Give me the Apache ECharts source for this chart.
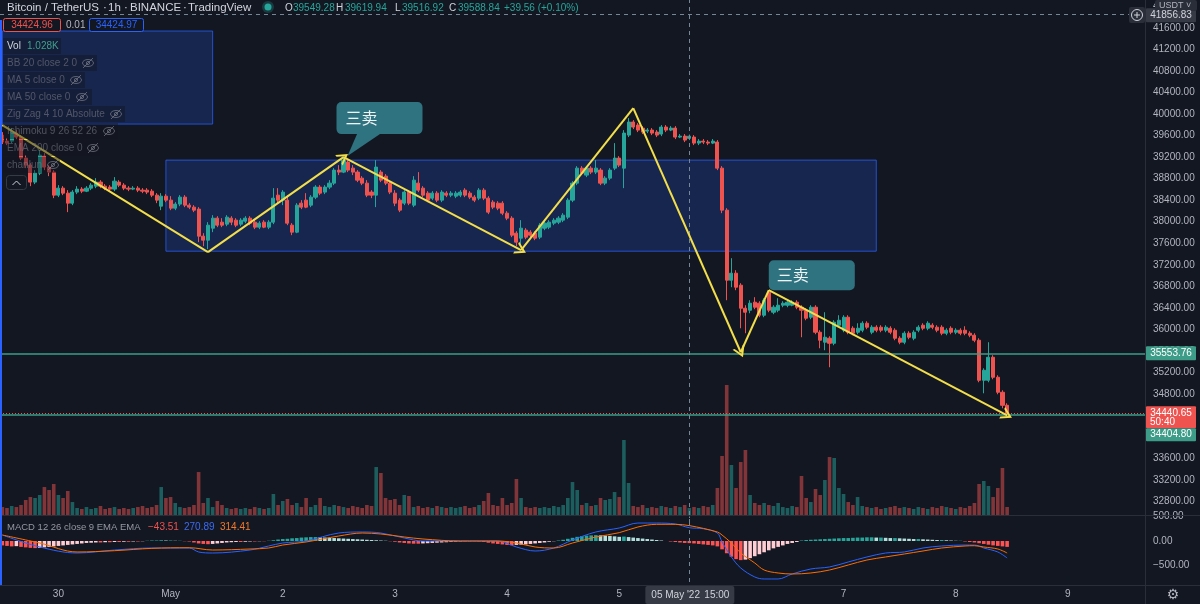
<!DOCTYPE html>
<html>
<head>
<meta charset="utf-8">
<title>BTCUSDT 1h</title>
<script src="https://cdn.jsdelivr.net/npm/echarts@6/dist/echarts.min.js"></script>
<style>
html, body { margin: 0; padding: 0; background: #131722; }
#chart { width: 1200px; height: 604px; }
</style>
</head>
<body>
<div id="chart"></div>
<script>
// hourly slots, slot 0 = 2022-04-29 12:00 ; candles = [open, close, low, high]
const candles = [
  [39610,39480,39443,39666],[39498,39461,39424,39554],[39498,39666,39461,39740],[39647,39573,39536,39703],
  [39573,39182,39145,39610],[39182,39052,38996,39238],[39052,38736,38661,39089],[38736,38903,38699,38959],
  [38903,39238,38866,39331],[39219,39015,38959,39275],[39015,38922,38847,39052],[38922,38494,38438,38959],
  [38494,38624,38457,38680],[38624,38531,38494,38661],[38531,38345,38178,38587],[38345,38550,38308,38587],
  [38550,38606,38513,38661],[38606,38568,38531,38643],[38568,38624,38550,38661],[38624,38680,38587,38717],
  [38661,38736,38624,38810],[38736,38661,38624,38773],[38661,38624,38587,38699],[38643,38606,38568,38680],
  [38606,38754,38568,38829],[38736,38680,38643,38773],[38680,38624,38587,38717],[38624,38606,38568,38661],
  [38606,38624,38587,38661],[38624,38587,38550,38661],[38587,38568,38531,38624],[38587,38550,38513,38624],
  [38568,38494,38457,38606],[38494,38401,38345,38531],[38289,38475,38215,38531],[38475,38401,38364,38513],
  [38401,38252,38215,38475],[38252,38327,38215,38364],[38327,38457,38289,38494],[38457,38308,38271,38494],
  [38308,38271,38234,38345],[38271,38215,38178,38308],[38234,37731,37620,38271],[37731,37657,37545,37787],
  [37657,37936,37490,37992],[37880,38066,37806,38122],[38066,37936,37899,38103],[37992,37936,37899,38066],
  [37955,38085,37917,38122],[38066,37992,37936,38103],[38029,37936,37899,38066],[37955,38029,37917,38066],
  [38010,38066,37973,38103],[38066,37973,37936,38103],[37992,37899,37862,38029],[37899,37973,37862,38010],
  [37992,37899,37880,38029],[37899,37992,37862,38029],[37992,38438,37955,38624],[38494,38401,38345,38624],
  [38401,38550,38308,38587],[38401,37973,37936,38494],[37936,37806,37750,37973],[37806,38308,37787,38345],
  [38345,38271,38234,38401],[38401,38271,38252,38531],[38308,38457,38271,38494],[38457,38643,38420,38680],
  [38643,38531,38494,38680],[38550,38643,38513,38680],[38643,38717,38606,38773],[38717,38959,38680,38996],
  [38959,38922,38866,39052],[38922,39145,38903,39219],[39108,38959,38922,39145],[38996,38922,38866,39052],
  [38922,38773,38736,38959],[38810,38717,38680,38847],[38717,38494,38457,38773],[38550,38494,38438,38587],
  [38494,39015,38271,39145],[38922,38773,38736,38959],[38847,38717,38680,38885],[38717,38550,38513,38754],
  [38531,38345,38289,38587],[38401,38215,38178,38438],[38345,38550,38308,38587],[38550,38345,38308,38587],
  [38308,38773,38271,38847],[38717,38587,38550,38922],[38624,38494,38457,38661],[38531,38401,38364,38568],
  [38438,38531,38401,38568],[38531,38401,38364,38568],[38401,38550,38364,38587],[38531,38494,38457,38568],
  [38494,38531,38457,38568],[38475,38531,38438,38568],[38494,38550,38457,38587],[38587,38494,38457,38624],
  [38531,38457,38420,38568],[38457,38401,38364,38494],[38438,38587,38401,38624],[38587,38438,38401,38624],
  [38438,38178,38141,38475],[38364,38271,38234,38401],[38345,38252,38215,38382],[38345,38159,38122,38382],
  [38159,38066,38029,38196],[38066,37750,37713,38103],[37787,37620,37545,37824],[37694,37880,37527,38029],
  [37843,37713,37676,37880],[37806,37750,37713,37843],[37787,37694,37657,37824],[37713,37936,37676,37973],
  [37880,37973,37843,38010],[37899,37992,37862,38029],[37973,38029,37936,38066],[37992,38066,37955,38103],
  [38029,38122,37992,38159],[38085,38401,38048,38438],[38401,38717,38364,38754],[38717,38996,38680,39033],
  [38996,38903,38866,39033],[38866,38996,38829,39033],[38996,38922,38885,39033],[38922,38996,38885,39145],
  [38959,38717,38680,38996],[38717,38810,38680,38847],[38810,38959,38773,38996],[38996,39182,38959,39461],
  [39182,39052,39015,39219],[38996,39647,38624,39703],[39610,39852,39573,39926],[39852,39759,39722,39889],
  [39796,39703,39666,39833],[39740,39666,39629,39777],[39684,39703,39647,39740],[39703,39647,39610,39740],
  [39666,39610,39573,39703],[39629,39759,39591,39796],[39759,39703,39666,39796],[39703,39740,39684,39777],
  [39740,39573,39536,39777],[39573,39591,39554,39629],[39591,39517,39480,39629],[39549.28,39588.84,39516.92,39619.94],
  [39573,39461,39424,39610],[39461,39498,39424,39536],[39498,39480,39443,39536],[39480,39461,39424,39517],
  [39461,39498,39443,39536],[39480,38996,38959,39517],[38996,38215,38159,39033],[38215,36913,36541,38252],
  [36913,37043,36783,37322],[37043,36783,36727,37099],[36820,36392,36020,36857],[36392,36318,35927,36448],
  [36355,36485,36299,36541],[36504,36411,36374,36597],[36485,36262,36225,36522],[36262,36541,36225,36578],
  [36690,36355,36318,36727],[36318,36411,36281,36448],[36355,36448,36318,36578],[36448,36485,36411,36522],
  [36448,36504,36411,36541],[36448,36504,36429,36541],[36504,36411,36374,36541],[36411,36355,35853,36448],
  [36355,36206,36169,36392],[36225,36411,36188,36448],[36411,35946,35909,36448],[35946,35797,35648,35983],
  [35760,35853,35611,36318],[35834,35741,35295,35871],[35741,36132,35704,36169],[36076,36169,36039,36262],
  [35983,36225,35946,36262],[36225,35946,35909,36262],[36020,35927,35890,36057],[35946,36020,35909,36113],
  [35983,36113,35946,36150],[36113,36039,36002,36150],[35946,36039,35909,36076],[36039,35983,35946,36076],
  [36039,35983,35946,36076],[35983,36039,35946,36076],[36020,35946,35909,36057],[35983,35834,35797,36020],
  [35834,35760,35723,35871],[35760,35927,35723,35964],[35927,35853,35816,35964],[35834,35946,35797,35983],
  [35983,36039,35946,36076],[36076,36020,35983,36113],[36020,36113,35983,36150],[36076,36039,36002,36113],
  [36039,35983,35946,36076],[36039,35927,35890,36076],[35927,35983,35890,36020],[36020,35946,35909,36057],
  [35946,35983,35909,36020],[35983,35927,35890,36020],[35983,35927,35890,36057],[35927,35890,35853,35964],
  [35890,35797,35760,35927],[35797,35053,35016,35834],[35053,35239,34811,35276],[35053,35481,35016,35760],
  [35481,35109,35072,35518],[35109,34830,34793,35146],[34830,34588,34532,34867],[34588,34440.65,34383,34625]
];

// volume, thousands of BTC
const volumes = [
  1.02,0.90,1.15,1.02,1.28,
  1.92,2.30,2.18,2.56,3.58,3.20,3.97,2.56,2.18,3.07,1.66,
  0.90,0.77,1.02,0.77,0.90,1.15,0.77,0.90,1.02,0.77,0.90,0.77,0.90,1.02,1.15,0.90,1.02,1.28,
  3.58,2.18,2.30,1.54,1.02,0.90,1.02,1.28,5.50,1.54,2.18,
  1.02,1.79,1.28,0.90,0.77,0.90,0.77,0.90,0.77,1.02,0.90,0.77,0.90,
  2.69,1.28,1.79,2.05,1.28,1.54,1.02,2.18,1.02,1.28,2.18,
  1.15,1.02,1.28,1.15,1.02,0.90,1.15,1.02,0.90,1.28,1.15,
  6.14,5.38,2.18,1.92,2.05,1.28,2.56,2.43,
  1.02,1.15,0.90,1.02,0.90,1.15,1.02,0.90,1.02,0.90,1.02,1.15,0.90,1.02,1.28,
  1.79,2.82,1.28,1.15,2.18,1.28,1.54,4.61,2.18,
  1.02,0.90,1.02,0.90,1.02,0.90,1.15,1.02,1.28,
  2.18,4.22,3.20,1.28,1.54,1.15,1.28,2.18,1.92,2.05,2.94,2.30,9.60,4.10,
  1.15,1.02,1.28,0.90,1.02,0.90,1.15,1.02,0.90,1.15,1.02,1.28,0.90,1.02,0.90,1.15,1.02,1.28,
  3.46,7.55,16.64,6.40,3.46,6.78,8.32,2.56,1.54,1.28,1.54,1.28,1.15,1.54,
  1.02,0.90,1.15,1.02,
  4.99,2.18,1.66,3.33,2.56,4.48,7.42,7.30,3.46,2.69,1.66,1.28,2.30,
  1.15,1.02,0.90,1.02,0.77,0.90,1.02,1.15,0.90,1.02,0.90,0.77,1.02,0.90,0.77,1.02,0.90,1.15,1.02,0.90,0.77,1.02,0.90,1.15,1.54,
  3.97,4.35,3.71,2.30,3.46,6.02,1.028
];

const macdHist = [
  -90,-100,-110,-105,-120,-130,
  -140,-145,-140,-130,-120,
  -110,-100,-90,-80,-70,-60,-50,-40,
  -35,-30,-30,-25,-25,-20,-20,-15,-15,-10,-10,-5,
  5,10,10,15,10,10,5,5,-5,-10,
  -30,-50,-60,-65,-60,-50,-40,-30,
  -25,-20,-20,-15,-10,-10,-5,-5,5,15,
  30,40,45,55,60,70,75,80,80,75,70,65,
  60,55,50,45,40,35,30,25,20,15,10,5,-5,-15,
  -30,-40,-50,-55,-55,-50,-45,-40,
  -35,-30,-25,-20,-15,-10,-10,-5,-5,-10,-20,-35,
  -50,-60,-70,-80,-85,-80,-75,-70,
  -60,-50,-40,-30,-15,-5,
  10,25,45,65,85,100,110,115,120,115,110,105,
  95,85,90,80,70,60,50,40,30,20,
  10,0,-10,-20,-30,-40,-43.51,
  -50,-60,-70,-80,-90,-110,
  -170,-250,-320,-370,-390,
  -380,-350,-310,-270,-230,-190,-150,-120,-90,-60,-40,-20,
  10,20,25,30,35,40,45,50,55,60,60,65,70,70,75,
  75,70,70,65,60,60,55,50,45,40,40,35,30,25,20,20,15,10,5,5,
  -10,-20,-30,-45,-60,-75,-90,-100,-110,-120
];

// [slot, value]
const macdLine = [[0,122],[8,-122],[16,-245],[24,-184],[32,-143],[40,-143],[42,-224],[45,-245],[53,-184],
  [57,-102],[60,-41],[65,0],[72,163],[77,184],[81,163],[86,61],[90,0],[98,0],[106,0],[110,-122],[114,-204],
  [118,-143],[122,20],[127,184],[132,265],[136,367],[140,367],[144,347],[147,270.89],[150,250],[153,163],
  [154,-20],[156,-326],[158,-551],[161,-734],[163,-775],[166,-775],[169,-673],[173,-571],[177,-530],
  [181,-428],[185,-326],[189,-245],[193,-224],[197,-143],[201,-102],[206,-82],[208,-82],[210,-143],
  [213,-224],[215,-347]];
const signalLine = [[0,122],[8,-41],[16,-224],[24,-198],[32,-150],[40,-137],[45,-184],[53,-163],[57,-143],
  [60,-82],[65,-20],[72,102],[77,163],[81,143],[86,82],[90,41],[98,0],[106,0],[110,-41],[114,-122],
  [118,-143],[122,-41],[127,82],[132,170],[136,286],[140,340],[144,340],[147,314.41],[153,184],[154,122],
  [156,-41],[158,-245],[161,-449],[163,-592],[166,-653],[169,-673],[173,-653],[177,-592],[181,-490],
  [185,-388],[189,-326],[193,-265],[197,-204],[201,-143],[206,-102],[208,-96],[210,-122],[213,-163],[215,-245]];

// drawings: zig zag pivots [slot, price], rectangles [slot, top, slot, bottom], levels
const zigzag = [[0,39796],[44,37434],[73,39201],[111,37471],[135,40112],[158,35574],[164,36727],[215,34402]];
const arrowEnds = [73, 111, 158, 215];
const rects = [[0,41544,45,39815],[35,39145,187,37452]];
const levels = [35553.76, 34404.80];
const lastPrice = 34440.65;
const cross = { slot: 147, price: 41856.83 };
const callouts = [{ slot: 73, price: 39201, text: '三卖' }, { slot: 164, price: 36727, text: '三卖' }];

const dayLabels = { '2022-04-30': '30', '2022-05-01': 'May', '2022-05-02': '2', '2022-05-03': '3',
  '2022-05-04': '4', '2022-05-05': '5', '2022-05-07': '7', '2022-05-08': '8', '2022-05-09': '9' }; // 6 sits under the crosshair label

const slotCount = 245;
const hours = [];
for (let i = 0; i < slotCount; i++) {
  const d = new Date(Date.UTC(2022, 3, 29, 12) + i * 3600000);
  hours.push(d.toISOString().slice(0, 13).replace('T', ' ') + ':00');
}

const FONT = '"Liberation Sans", Roboto, sans-serif';
const UP = '#26a69a', DOWN = '#ef5350', TEAL_LINE = '#3d9c88';

const volData = volumes.map((v, i) => ({
  value: v,
  itemStyle: { color: candles[i][1] >= candles[i][0] ? 'rgba(38,166,154,0.5)' : 'rgba(239,83,80,0.5)' }
}));
const histData = macdHist.map((v, i) => {
  const prev = i ? macdHist[i - 1] : v;
  let c;
  if (v >= 0) c = v >= prev ? '#26a69a' : '#b2dfdb';
  else c = v <= prev ? '#ff5252' : '#ffcdd2';
  return { value: v, itemStyle: { color: c } };
});

const chevron = 'path://M0,13 L7,0 L14,13 L11.6,13 L7,4.6 L2.4,13 Z';
const zigSegs = [];
for (let i = 0; i < zigzag.length - 1; i++) {
  const b = zigzag[i + 1];
  zigSegs.push([
    { coord: zigzag[i], symbol: 'none' },
    { coord: b, symbol: arrowEnds.includes(b[0]) ? chevron : 'none', symbolSize: [13, 11] }
  ]);
}
const crossStyle = { color: '#758696', width: 1, type: [4, 4] };

const xBase = {
  type: 'category', data: hours, boundaryGap: true,
  axisLine: { show: false }, axisTick: { show: false }, axisLabel: { show: false }, splitLine: { show: false }
};

const option = {
  backgroundColor: '#131722',
  animation: false,
  grid: [
    { left: 0, right: 55, top: 0, height: 523, outerBoundsMode: 'none' },
    { left: 0, right: 55, top: 380, height: 135, outerBoundsMode: 'none' },
    { left: 0, right: 55, top: 516.5, height: 73.5, outerBoundsMode: 'none' }
  ],
  xAxis: [
    Object.assign({ gridIndex: 0 }, xBase),
    Object.assign({ gridIndex: 1 }, xBase),
    Object.assign({}, xBase, {
      gridIndex: 2,
      axisLabel: {
        show: true, color: '#b2b5be', fontSize: 10, fontFamily: FONT, margin: -1,
        interval: (i, v) => v.slice(11) === '00:00' && !!dayLabels[v.slice(0, 10)],
        formatter: v => dayLabels[v.slice(0, 10)] || ''
      }
    })
  ],
  yAxis: [
    {
      gridIndex: 0, type: 'value', position: 'right', min: 32400, max: 42121, interval: 400,
      axisLine: { show: false }, axisTick: { show: false }, splitLine: { show: false },
      axisLabel: {
        color: '#b2b5be', fontSize: 10, fontFamily: FONT, margin: 8,
        formatter: v => (v % 400 === 0 && v >= 32800) ? v.toFixed(2) : ''
      }
    },
    { gridIndex: 1, type: 'value', min: 0, max: 17.28, show: false },
    {
      gridIndex: 2, type: 'value', position: 'right', min: -1000, max: 500, interval: 500,
      axisLine: { show: false }, axisTick: { show: false }, splitLine: { show: false },
      axisLabel: {
        color: '#b2b5be', fontSize: 10, fontFamily: FONT, margin: 8,
        formatter: v => v === -1000 ? '' : (v < 0 ? '\u2212' + Math.abs(v).toFixed(2) : v.toFixed(2))
      }
    }
  ],
  series: [
    {
      type: 'bar', name: 'Vol', xAxisIndex: 1, yAxisIndex: 1, data: volData, barWidth: 3.6, silent: true,
      markLine: { silent: true, symbol: ['none', 'none'], label: { show: false }, lineStyle: crossStyle,
        data: [{ xAxis: cross.slot }] }
    },
    {
      type: 'candlestick', name: 'BTCUSDT', xAxisIndex: 0, yAxisIndex: 0, data: candles, barWidth: 3.6,
      itemStyle: { color: UP, color0: DOWN, borderColor: UP, borderColor0: DOWN, borderWidth: 1 },
      markArea: {
        silent: true,
        itemStyle: { color: 'rgba(41,98,255,0.2)', borderColor: 'rgba(41,98,255,0.75)', borderWidth: 1 },
        data: rects.map(r => [{ coord: [r[0], r[1]] }, { coord: [r[2], r[3]] }])
      },
      markLine: {
        silent: true, symbol: ['none', 'none'], label: { show: false },
        lineStyle: { color: '#f2de4b', width: 2, type: 'solid' },
        emphasis: { disabled: true },
        data: [
          { yAxis: levels[0], lineStyle: { color: TEAL_LINE, width: 1.5, type: 'solid' } },
          { yAxis: levels[1], lineStyle: { color: TEAL_LINE, width: 1.5, type: 'solid' } },
          { yAxis: lastPrice, lineStyle: { color: DOWN, width: 1, type: [1, 2] } },
          { xAxis: cross.slot, lineStyle: crossStyle },
          { yAxis: cross.price, lineStyle: crossStyle }
        ].concat(zigSegs)
      }
    },
    {
      type: 'bar', name: 'Histogram', xAxisIndex: 2, yAxisIndex: 2, data: histData, barWidth: 3.6, silent: true
    },
    {
      type: 'line', name: 'MACD', xAxisIndex: 2, yAxisIndex: 2, data: macdLine, showSymbol: false, smooth: 0.35,
      lineStyle: { color: '#2962ff', width: 1 }, silent: true,
      markLine: { silent: true, symbol: ['none', 'none'], label: { show: false }, lineStyle: crossStyle,
        data: [{ xAxis: cross.slot }] }
    },
    {
      type: 'line', name: 'Signal', xAxisIndex: 2, yAxisIndex: 2, data: signalLine, showSymbol: false, smooth: 0.35,
      lineStyle: { color: '#ff6d00', width: 1 }, silent: true
    }
  ]
};

const chart = echarts.init(document.getElementById('chart'));
chart.setOption(option);

// overlay texts and tags, placed from the chart's own scales
const toPx = (slot, price) => chart.convertToPixel({ gridIndex: 0 }, [slot, price]);
const yOf = price => toPx(0, price)[1];
function text(x, y, str, fill, size, extra) {
  return Object.assign({ type: 'text', z: 100,
    style: Object.assign({ x, y, text: str, fill, font: size + 'px ' + FONT, textVerticalAlign: 'middle' }, extra || {}) });
}
function rect(x, y, w, h, fill, stroke, r) {
  return { type: 'rect', z: 99, shape: { x, y, width: w, height: h, r: r || 0 },
    style: { fill, stroke: stroke || null, lineWidth: 1 } };
}
function eyeOff(cx, cy) {
  const c = 'rgba(150,153,164,0.55)';
  return { type: 'group', z: 100, children: [
    { type: 'ellipse', z: 100, shape: { cx, cy, rx: 5.5, ry: 3.5 }, style: { fill: 'none', stroke: c, lineWidth: 1 } },
    { type: 'circle', z: 100, shape: { cx, cy, r: 1.6 }, style: { fill: 'none', stroke: c, lineWidth: 1 } },
    { type: 'line', z: 100, shape: { x1: cx - 5, y1: cy + 5, x2: cx + 5, y2: cy - 5 }, style: { stroke: c, lineWidth: 1 } }
  ] };
}

const g = [];
// pane separators
g.push({ type: 'line', z: 90, shape: { x1: 0, y1: 515.5, x2: 1200, y2: 515.5 }, style: { stroke: '#2a2e39', lineWidth: 1 } });
g.push({ type: 'line', z: 90, shape: { x1: 0, y1: 585.5, x2: 1200, y2: 585.5 }, style: { stroke: '#2a2e39', lineWidth: 1 } });
g.push({ type: 'line', z: 90, shape: { x1: 1145.5, y1: 0, x2: 1145.5, y2: 604 }, style: { stroke: '#2a2e39', lineWidth: 1 } });
g.push({ type: 'line', z: 90, shape: { x1: 1, y1: 20, x2: 1, y2: 585 }, style: { stroke: '#2962ff', lineWidth: 2 } });

// header
const hdrC = '#d1d4dc';
g.push(text(7, 8, 'Bitcoin / TetherUS', hdrC, 11.5));
g.push(text(103, 8, '·', hdrC, 11.5));
g.push(text(108, 8, '1h', hdrC, 11.5));
g.push(text(124, 8, '·', hdrC, 11.5));
g.push(text(130, 8, 'BINANCE', hdrC, 11.5));
g.push(text(183, 8, '·', hdrC, 11.5));
g.push(text(188, 8, 'TradingView', hdrC, 11.5));
g.push({ type: 'circle', z: 100, shape: { cx: 268, cy: 7, r: 6 }, style: { fill: 'rgba(38,166,154,0.25)' } });
g.push({ type: 'circle', z: 100, shape: { cx: 268, cy: 7, r: 3.5 }, style: { fill: UP } });
const ohlc = [['O', 285, '39549.28', 293], ['H', 336, '39619.94', 345], ['L', 395, '39516.92', 402], ['C', 449, '39588.84', 458]];
ohlc.forEach(o => { g.push(text(o[1], 8, o[0], hdrC, 10)); g.push(text(o[3], 8, o[2], UP, 10)); });
g.push(text(504, 8, '+39.56 (+0.10%)', UP, 10));

// bid / ask boxes
g.push(rect(3.5, 18.5, 57, 13, '#131722', DOWN, 2));
g.push(text(32, 25, '34424.96', DOWN, 10, { textAlign: 'center' }));
g.push(text(66, 25, '0.01', '#b2b5be', 10));
g.push(rect(89.5, 18.5, 54, 13, '#131722', '#2962ff', 2));
g.push(text(116.5, 25, '34424.97', '#2962ff', 10, { textAlign: 'center' }));

// indicator legend
g.push(rect(3, 38, 58, 16, 'rgba(19,23,34,0.45)'));
g.push(text(7, 46, 'Vol', hdrC, 10));
g.push(text(27, 46, '1.028K', '#3fa08e', 10));
const rows = [['BB 20 close 2 0', 63, 97, 88], ['MA 5 close 0', 80, 85, 76], ['MA 50 close 0', 97, 92, 82],
  ['Zig Zag 4 10 Absolute', 114, 125, 116], ['Ichimoku 9 26 52 26', 131, 118, 109],
  ['EMA 200 close 0', 148, 100, 93], ['chanlun', 165, 60, 53]];
rows.forEach(r => {
  g.push(rect(3, r[1] - 8, r[2] - 3, 16, 'rgba(19,23,34,0.45)'));
  g.push(text(7, r[1], r[0], 'rgba(130,133,144,0.55)', 10));
  g.push(eyeOff(r[3], r[1]));
});
g.push(rect(6.5, 175.5, 20, 14, 'rgba(19,23,34,0.6)', '#363a45', 3));
g.push({ type: 'polyline', z: 100, shape: { points: [[12.5, 185], [16.5, 181], [20.5, 185]] }, style: { stroke: hdrC, lineWidth: 1, fill: 'none' } });

// MACD legend
g.push(text(7, 527, 'MACD 12 26 close 9 EMA EMA', '#9598a1', 9.5));
g.push(text(148, 527, '\u221243.51', DOWN, 10));
g.push(text(184, 527, '270.89', '#3d6bf0', 10));
g.push(text(220, 527, '314.41', '#f07a2a', 10));

// callouts
callouts.forEach((c, k) => {
  const p = toPx(c.slot, c.price);
  if (k === 0) {
    g.push({ type: 'polygon', z: 98, shape: { points: [[p[0] + 14, p[1] - 24], [p[0] + 38, p[1] - 24], [p[0] + 4, p[1] - 1]] },
      style: { fill: '#2f7380' } });
    g.push(rect(p[0] - 7, p[1] - 55, 86, 32, '#2f7380', null, 5));
    g.push(text(p[0] + 2, p[1] - 39, c.text, '#f0f3f5', 16, { font: '16px "Noto Sans CJK SC", sans-serif' }));
  } else {
    g.push(rect(p[0], p[1] - 30, 86, 30, '#2f7380', null, 5));
    g.push(text(p[0] + 8, p[1] - 15, c.text, '#f0f3f5', 16, { font: '16px "Noto Sans CJK SC", sans-serif' }));
  }
});

// price tags on the axis
const tagX = 1146, tagW = 50;
const yl = yOf(levels[0]);
g.push(rect(tagX, yl - 7, tagW, 14, TEAL_LINE, null, 1));
g.push(text(tagX + tagW / 2, yl, levels[0].toFixed(2), '#ffffff', 10, { textAlign: 'center' }));
const yp = yOf(lastPrice);
g.push(rect(tagX, yp - 7, tagW, 22, DOWN, null, 1));
g.push(text(tagX + tagW / 2, yp, lastPrice.toFixed(2), '#ffffff', 10, { textAlign: 'center' }));
g.push(text(tagX + 4, yp + 9, '50:40', '#ffffff', 10));
g.push(rect(tagX, yp + 15, tagW, 13, TEAL_LINE, null, 1));
g.push(text(tagX + tagW / 2, yp + 21.5, levels[1].toFixed(2), '#ffffff', 10, { textAlign: 'center' }));
const yc = yOf(cross.price);
g.push(rect(tagX, yc - 6, tagW, 14, '#363a45', null, 1));
g.push(text(tagX + tagW / 2, yc + 1, cross.price.toFixed(2), '#d1d4dc', 10, { textAlign: 'center' }));
g.push(rect(1155, 0, 42, 11, '#2a2e39', null, 2));
g.push(text(1159, 5.5, 'USDT \u02c5', '#b2b5be', 9));
g.push(rect(1129, 7, 16, 16, '#2a2e39', null, 2));
g.push({ type: 'circle', z: 100, shape: { cx: 1137, cy: 15, r: 5.5 }, style: { fill: 'none', stroke: '#d1d4dc', lineWidth: 1 } });
g.push({ type: 'line', z: 100, shape: { x1: 1134, y1: 15, x2: 1140, y2: 15 }, style: { stroke: '#d1d4dc', lineWidth: 1 } });
g.push({ type: 'line', z: 100, shape: { x1: 1137, y1: 12, x2: 1137, y2: 18 }, style: { stroke: '#d1d4dc', lineWidth: 1 } });

// time crosshair tag and settings icon
const xc = toPx(cross.slot, cross.price)[0];
g.push(rect(xc - 44, 586, 89, 18, '#363a45', null, 2));
g.push(text(xc - 38, 595, "05 May '22", '#d1d4dc', 10));
g.push(text(xc + 15, 595, '15:00', '#d1d4dc', 10));
g.push(text(1173, 595, '\u2699', '#b2b5be', 14, { textAlign: 'center', font: '14px "DejaVu Sans", sans-serif' }));

chart.setOption({ graphic: g });
</script>
</body>
</html>
